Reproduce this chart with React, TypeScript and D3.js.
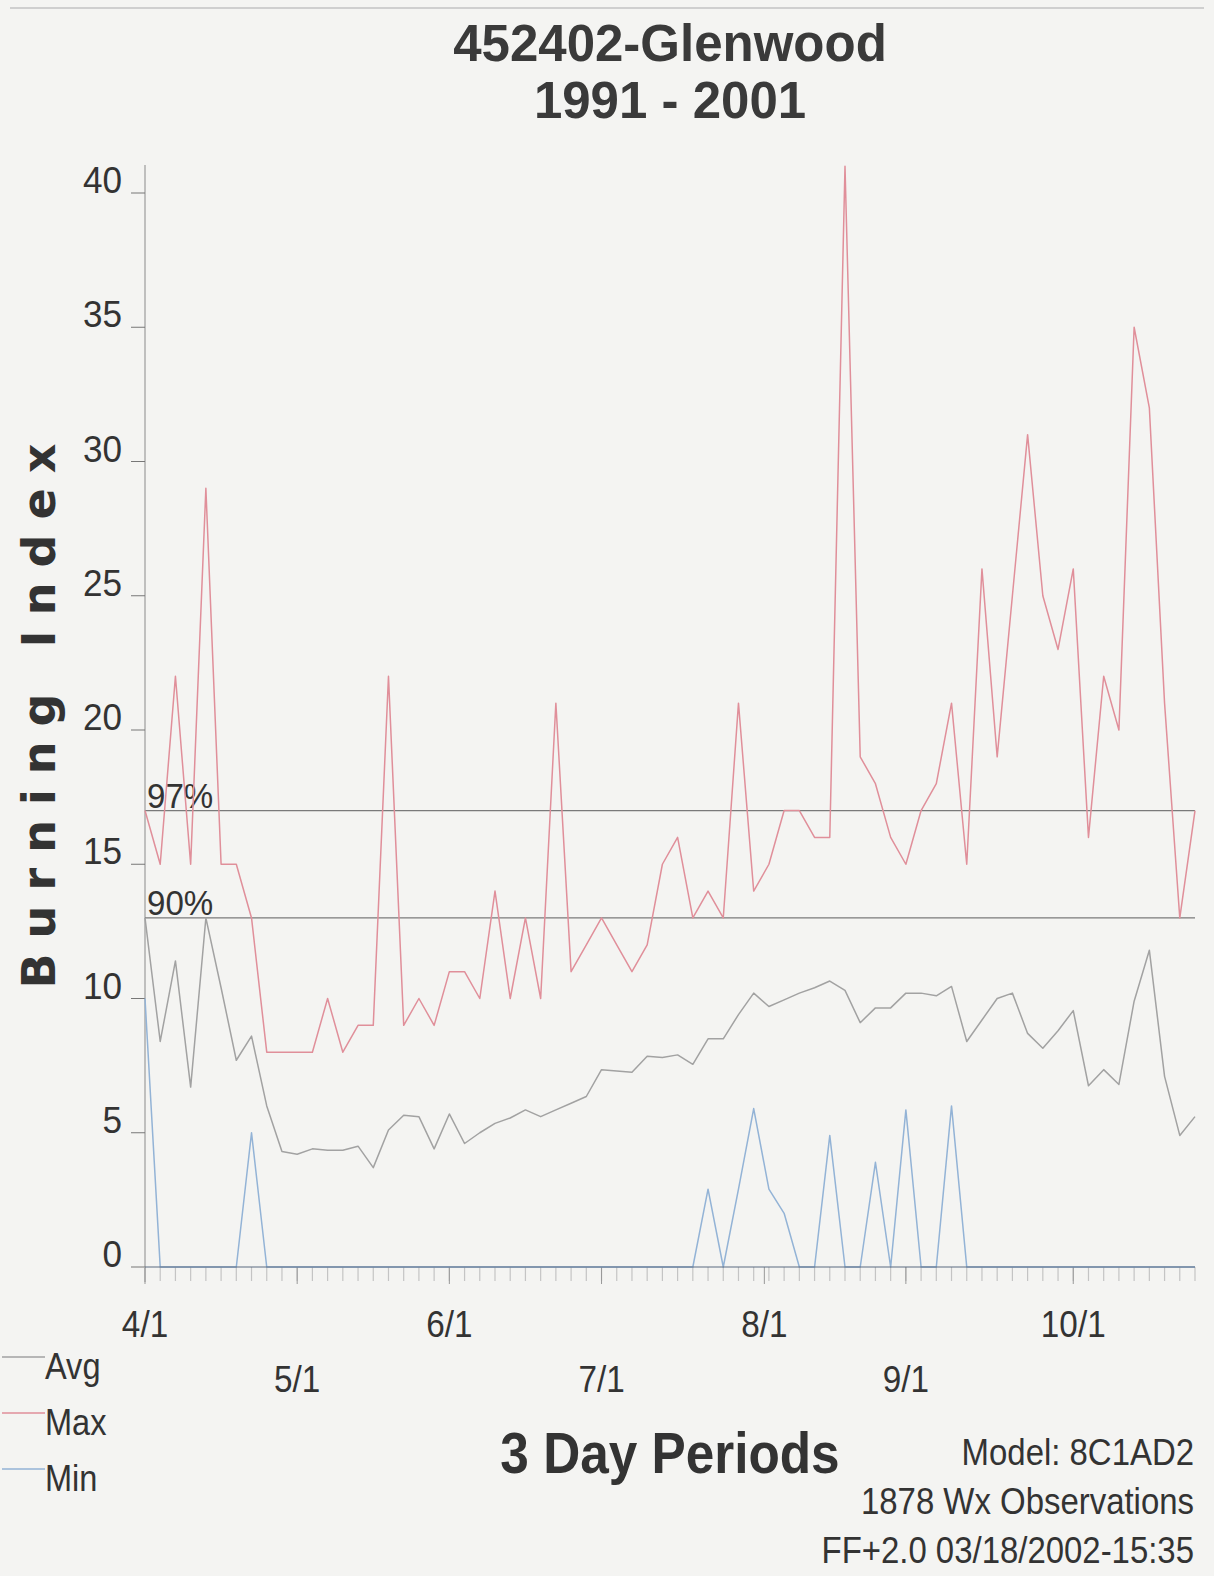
import React from "react";
import * as d3 from "d3";

// Burning Index per 3-day period, starting 4/1 (70 periods)
const maxValues = [
  17, 15, 22, 15, 29, 15, 15, 13, 8, 8, 8, 8, 10, 8, 9, 9, 22, 9, 10, 9,
  11, 11, 10, 14, 10, 13, 10, 21, 11, 12, 13, 12, 11, 12, 15, 16, 13, 14, 13, 21,
  14, 15, 17, 17, 16, 16, 41, 19, 18, 16, 15, 17, 18, 21, 15, 26, 19, 25, 31, 25,
  23, 26, 16, 22, 20, 35, 32, 21, 13, 17,
];
const avgValues = [
  13.0, 8.4, 11.4, 6.7, 13.0, 10.4, 7.7, 8.6, 6.0, 4.3, 4.2, 4.4, 4.35, 4.35, 4.5, 3.7, 5.1, 5.65, 5.6, 4.4,
  5.7, 4.6, 5.0, 5.35, 5.55, 5.85, 5.6, 5.85, 6.1, 6.35, 7.35, 7.3, 7.25, 7.85, 7.8, 7.9, 7.55, 8.5, 8.5, 9.4,
  10.2, 9.7, 9.95, 10.2, 10.4, 10.65, 10.3, 9.1, 9.65, 9.65, 10.2, 10.2, 10.1, 10.45, 8.4, 9.2, 10.0, 10.2, 8.7, 8.15,
  8.8, 9.55, 6.75, 7.35, 6.8, 9.9, 11.8, 7.1, 4.9, 5.6,
];
const minValues = [
  10, 0, 0, 0, 0, 0, 0, 5, 0, 0, 0, 0, 0, 0, 0, 0, 0, 0, 0, 0,
  0, 0, 0, 0, 0, 0, 0, 0, 0, 0, 0, 0, 0, 0, 0, 0, 0, 2.9, 0, 2.9,
  5.9, 2.9, 2.0, 0, 0, 4.9, 0, 0, 3.9, 0, 5.85, 0, 0, 6.0, 0, 0, 0, 0, 0, 0,
  0, 0, 0, 0, 0, 0, 0, 0, 0, 0,
];

// month labels and the period index they sit at (alternating upper / lower row)
const monthLabels = ["4/1", "5/1", "6/1", "7/1", "8/1", "9/1", "10/1"];
const monthPeriods = [0, 10, 20, 30, 40.7, 50, 61];

const yTicks = [0, 5, 10, 15, 20, 25, 30, 35, 40];
const percentileLabels = ["97%", "90%"];
const percentileValues = [17, 13];

const legendNames = ["Avg", "Max", "Min"];
const footerLines = ["Model: 8C1AD2", "1878 Wx Observations", "FF+2.0 03/18/2002-15:35"];

const W = 1214;
const H = 1576;
const FONT = "'Liberation Sans', Arial, Helvetica, sans-serif";
const colors: Record<string, string> = {
  Avg: "#a2a2a2",
  Max: "#e08f9a",
  Min: "#93b3d6",
};

function T({
  x,
  y,
  size,
  anchor = "start",
  weight = "normal",
  sx = 0.9,
  fill = "#333",
  children,
}: {
  x: number;
  y: number;
  size: number;
  anchor?: "start" | "middle" | "end";
  weight?: string;
  sx?: number;
  fill?: string;
  children: React.ReactNode;
}) {
  return (
    <text
      transform={`translate(${x},${y}) scale(${sx},1)`}
      textAnchor={anchor}
      fontSize={size}
      fontWeight={weight}
      fontFamily={FONT}
      fill={fill}
    >
      {children}
    </text>
  );
}

export default function App() {
  const n = maxValues.length;
  const x = d3.scaleLinear().domain([0, n - 1]).range([145, 1195]);
  const y = d3.scaleLinear().domain([0, 40]).range([1267, 193]);

  const line = d3
    .line<number>()
    .x((_, i) => x(i))
    .y((d) => y(d));

  const series = [
    { name: "Avg", values: avgValues },
    { name: "Max", values: maxValues },
    { name: "Min", values: minValues },
  ];

  return (
    <svg
      width={W}
      height={H}
      style={{ position: "absolute", left: 0, top: 0, background: "#f4f4f2" }}
    >
      <rect x={0} y={0} width={W} height={H} fill="#f4f4f2" />
      <line x1={10} x2={W - 10} y1={8} y2={8} stroke="#cfcfcf" strokeWidth={2} />

      {/* title */}
      <T x={670} y={61} size={51} anchor="middle" weight="bold" sx={1} fill="#3a3a3a">
        452402-Glenwood
      </T>
      <T x={670} y={118} size={51} anchor="middle" weight="bold" sx={1} fill="#3a3a3a">
        1991 - 2001
      </T>

      {/* y axis */}
      <line x1={145} x2={145} y1={165} y2={1282} stroke="#8a8a8a" strokeWidth={1} />
      {yTicks.map((t) => (
        <g key={t}>
          <line x1={131} x2={145} y1={y(t)} y2={y(t)} stroke="#777" strokeWidth={1} />
          <T x={122} y={y(t)} size={37} anchor="end" sx={0.95}>
            {t}
          </T>
        </g>
      ))}
      <text
        transform="translate(55,716) rotate(-90)"
        textAnchor="middle"
        fontSize={46}
        fontWeight="bold"
        fontFamily="'DejaVu Sans', Verdana, sans-serif"
        fill="#333"
        textLength={545}
        lengthAdjust="spacing"
      >
        Burning Index
      </text>

      {/* x axis with a tick per 3-day period */}
      {d3.range(n).map((i) => (
        <line
          key={i}
          x1={x(i)}
          x2={x(i)}
          y1={1267}
          y2={1281}
          stroke="#c4c4c4"
          strokeWidth={1.2}
        />
      ))}
      {monthPeriods.map((p, i) => (
        <line key={"m" + i} x1={x(p)} x2={x(p)} y1={1267} y2={1284} stroke="#999" strokeWidth={1} />
      ))}
      {monthLabels.map((m, i) => (
        <T key={m} x={x(monthPeriods[i])} y={i % 2 === 0 ? 1337 : 1392} size={37} anchor="middle" sx={0.9}>
          {m}
        </T>
      ))}

      {/* percentile lines */}
      {percentileValues.map((v, i) => (
        <g key={v}>
          <line x1={145} x2={1195} y1={y(v)} y2={y(v)} stroke="#7a7a7a" strokeWidth={1.2} />
          <T x={147} y={y(v) - 3} size={36} sx={0.92}>
            {percentileLabels[i]}
          </T>
        </g>
      ))}

      {/* series */}
      {series.map((s) => (
        <path
          key={s.name}
          d={line(s.values) || ""}
          fill="none"
          stroke={colors[s.name]}
          strokeWidth={1.5}
          strokeLinejoin="round"
        />
      ))}
      <line x1={145} x2={1195} y1={1267} y2={1267} stroke="#5a6a80" strokeWidth={1.2} />

      {/* legend */}
      {legendNames.map((name, i) => (
        <g key={name}>
          <line
            x1={2}
            x2={45}
            y1={1357 + i * 56}
            y2={1357 + i * 56}
            stroke={colors[name]}
            strokeWidth={1.5}
          />
          <T x={45} y={1379 + i * 56} size={37} sx={0.88}>
            {name}
          </T>
        </g>
      ))}

      {/* x axis title and footer */}
      <T x={670} y={1473} size={57} anchor="middle" weight="bold" sx={0.9}>
        3 Day Periods
      </T>
      {footerLines.map((l, i) => (
        <T key={l} x={1194} y={1465 + i * 49} size={37} anchor="end" sx={0.89}>
          {l}
        </T>
      ))}
    </svg>
  );
}
